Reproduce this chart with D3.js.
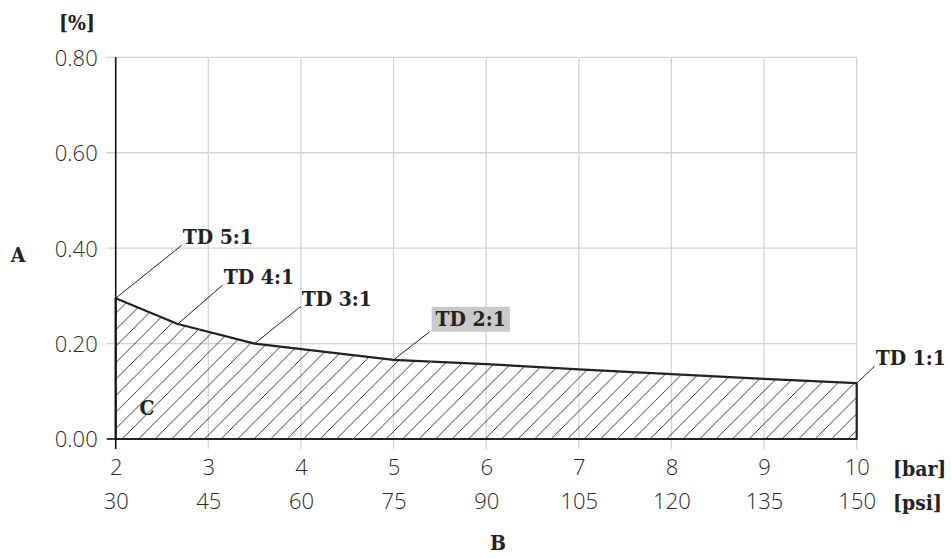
<!DOCTYPE html>
<html>
<head>
<meta charset="utf-8">
<script src="https://cdn.jsdelivr.net/npm/d3@7"></script>
<style>
  body { margin: 0; background: #fff; }
  .tick text { font-family: "Open Sans", "Noto Sans", sans-serif; font-weight: 300; fill: #2a2a2a; font-size: 22px; }
  .lbl { font-family: "DejaVu Serif Condensed", "DejaVu Serif", serif; font-weight: bold; fill: #222; font-size: 21px; }
</style>
</head>
<body>
<div id="chart"></div>
<script>
// datos
const barTicks = [2, 3, 4, 5, 6, 7, 8, 9, 10]
const psiTicks = [30, 45, 60, 75, 90, 105, 120, 135, 150]
const yTicks = [0, 0.2, 0.4, 0.6, 0.8]
const curveBar = [2, 2.67, 3.5, 5, 6, 7, 8, 9, 10]
const curvePct = [0.295, 0.241, 0.2, 0.166, 0.157, 0.146, 0.136, 0.126, 0.117]
const tdLabels = ["TD 5:1", "TD 4:1", "TD 3:1", "TD 2:1", "TD 1:1"]
const tdIndex = [0, 1, 2, 3, 8] // punto de la curva al que apunta cada etiqueta

const width = 952
const height = 558
const margin = { top: 57.3, bottom: 119, left: 115.7, right: 95.3 }

// desplazamiento de cada etiqueta respecto a su punto
const tdOffset = [[67, -54], [46, -40], [47, -38], [42, -34], [19, -18]]

const svg = d3.select("#chart")
  .append("svg")
  .attr("width", width)
  .attr("height", height)

const x = d3.scaleLinear().domain([2, 10]).range([margin.left, width - margin.right])
const y = d3.scaleLinear().domain([0, 0.8]).range([height - margin.bottom, margin.top])

// trama rayada
svg.append("defs").append("pattern")
  .attr("id", "hatch")
  .attr("patternUnits", "userSpaceOnUse")
  .attr("width", 16.5).attr("height", 16.5)
  .append("path")
  .attr("d", "M-4,4 L4,-4 M0,16.5 L16.5,0 M12.5,20.5 L20.5,12.5")
  .attr("stroke", "#222").attr("stroke-width", 0.9)

// rejilla
const grid = svg.append("g")
grid.selectAll(".vg").data(barTicks.slice(1)).join("line")
  .attr("x1", d => x(d)).attr("x2", d => x(d))
  .attr("y1", y(0.8)).attr("y2", y(0) + 10)
  .attr("stroke", "#d4d4d4").attr("stroke-width", 1.3)
grid.selectAll(".hg").data(yTicks.slice(1)).join("line")
  .attr("x1", x(2) - 9).attr("x2", x(10))
  .attr("y1", d => y(d)).attr("y2", d => y(d))
  .attr("stroke", "#d4d4d4").attr("stroke-width", 1.3)

// área
const pts = curveBar.map((b, i) => [b, curvePct[i]])
const area = d3.area().x(d => x(d[0])).y0(y(0)).y1(d => y(d[1]))
svg.append("path").datum(pts)
  .attr("d", area)
  .attr("fill", "url(#hatch)")
  .attr("stroke", "#222").attr("stroke-width", 2.2)
  .attr("stroke-linejoin", "round")

// ejes
const yAxis = d3.axisLeft(y).tickValues(yTicks).tickFormat(d3.format(".2f")).tickSize(0).tickPadding(18)
const yAxisGroup = svg.append("g").attr("transform", `translate(${margin.left},0)`).call(yAxis)
yAxisGroup.select(".domain").remove()
yAxisGroup.selectAll(".tick text").attr("dy", "0.36em")

svg.append("line")
  .attr("x1", x(2)).attr("x2", x(2))
  .attr("y1", y(0.8)).attr("y2", y(0) + 10)
  .attr("stroke", "#111").attr("stroke-width", 1.6)
svg.append("line")
  .attr("x1", x(2) - 9).attr("x2", x(2))
  .attr("y1", y(0)).attr("y2", y(0))
  .attr("stroke", "#111").attr("stroke-width", 1.6)

const xAxis = d3.axisBottom(x).tickValues(barTicks).tickSize(0).tickPadding(20)
const xAxisGroup = svg.append("g").attr("transform", `translate(0,${y(0)})`).call(xAxis)
xAxisGroup.select(".domain").remove()

const xPsi = d3.scaleLinear().domain([30, 150]).range(x.range())
const psiAxis = d3.axisBottom(xPsi).tickValues(psiTicks).tickSize(0).tickPadding(54)
const psiGroup = svg.append("g").attr("transform", `translate(0,${y(0)})`).call(psiAxis)
psiGroup.select(".domain").remove()

// etiquetas de unidades y letras
svg.append("text").attr("class", "lbl").attr("x", 77).attr("y", 30).attr("text-anchor", "middle").text("[%]")
svg.append("text").attr("class", "lbl").attr("x", 893).attr("y", 476).text("[bar]")
svg.append("text").attr("class", "lbl").attr("x", 893).attr("y", 510).text("[psi]")
svg.append("text").attr("class", "lbl").attr("x", 498).attr("y", 550).attr("text-anchor", "middle").text("B")
svg.append("text").attr("class", "lbl").attr("x", 18).attr("y", 262).attr("text-anchor", "middle").text("A")
svg.append("text").attr("class", "lbl").attr("x", 147).attr("y", 415).attr("text-anchor", "middle").text("C")

// anotaciones TD
const ann = svg.append("g")
tdLabels.forEach((t, i) => {
  const ax = x(curveBar[tdIndex[i]])
  const ay = y(curvePct[tdIndex[i]])
  const tx = ax + tdOffset[i][0]
  const ty = ay + tdOffset[i][1]
  const txt = ann.append("text").attr("class", "lbl").attr("x", tx).attr("y", ty).text(t)
  let lx = tx - 1, ly = ty + 1
  if (t === "TD 2:1") {
    const bb = txt.node().getBBox()
    ann.insert("rect", "text")
      .attr("x", bb.x - 4).attr("y", bb.y + 1)
      .attr("width", bb.width + 8).attr("height", bb.height)
      .attr("fill", "#c9c9c9")
    lx = bb.x - 6; ly = bb.y + bb.height + 1
  }
  ann.append("line")
    .attr("x1", ax).attr("y1", ay).attr("x2", lx).attr("y2", ly)
    .attr("stroke", "#222").attr("stroke-width", 1)
})
</script>
</body>
</html>
